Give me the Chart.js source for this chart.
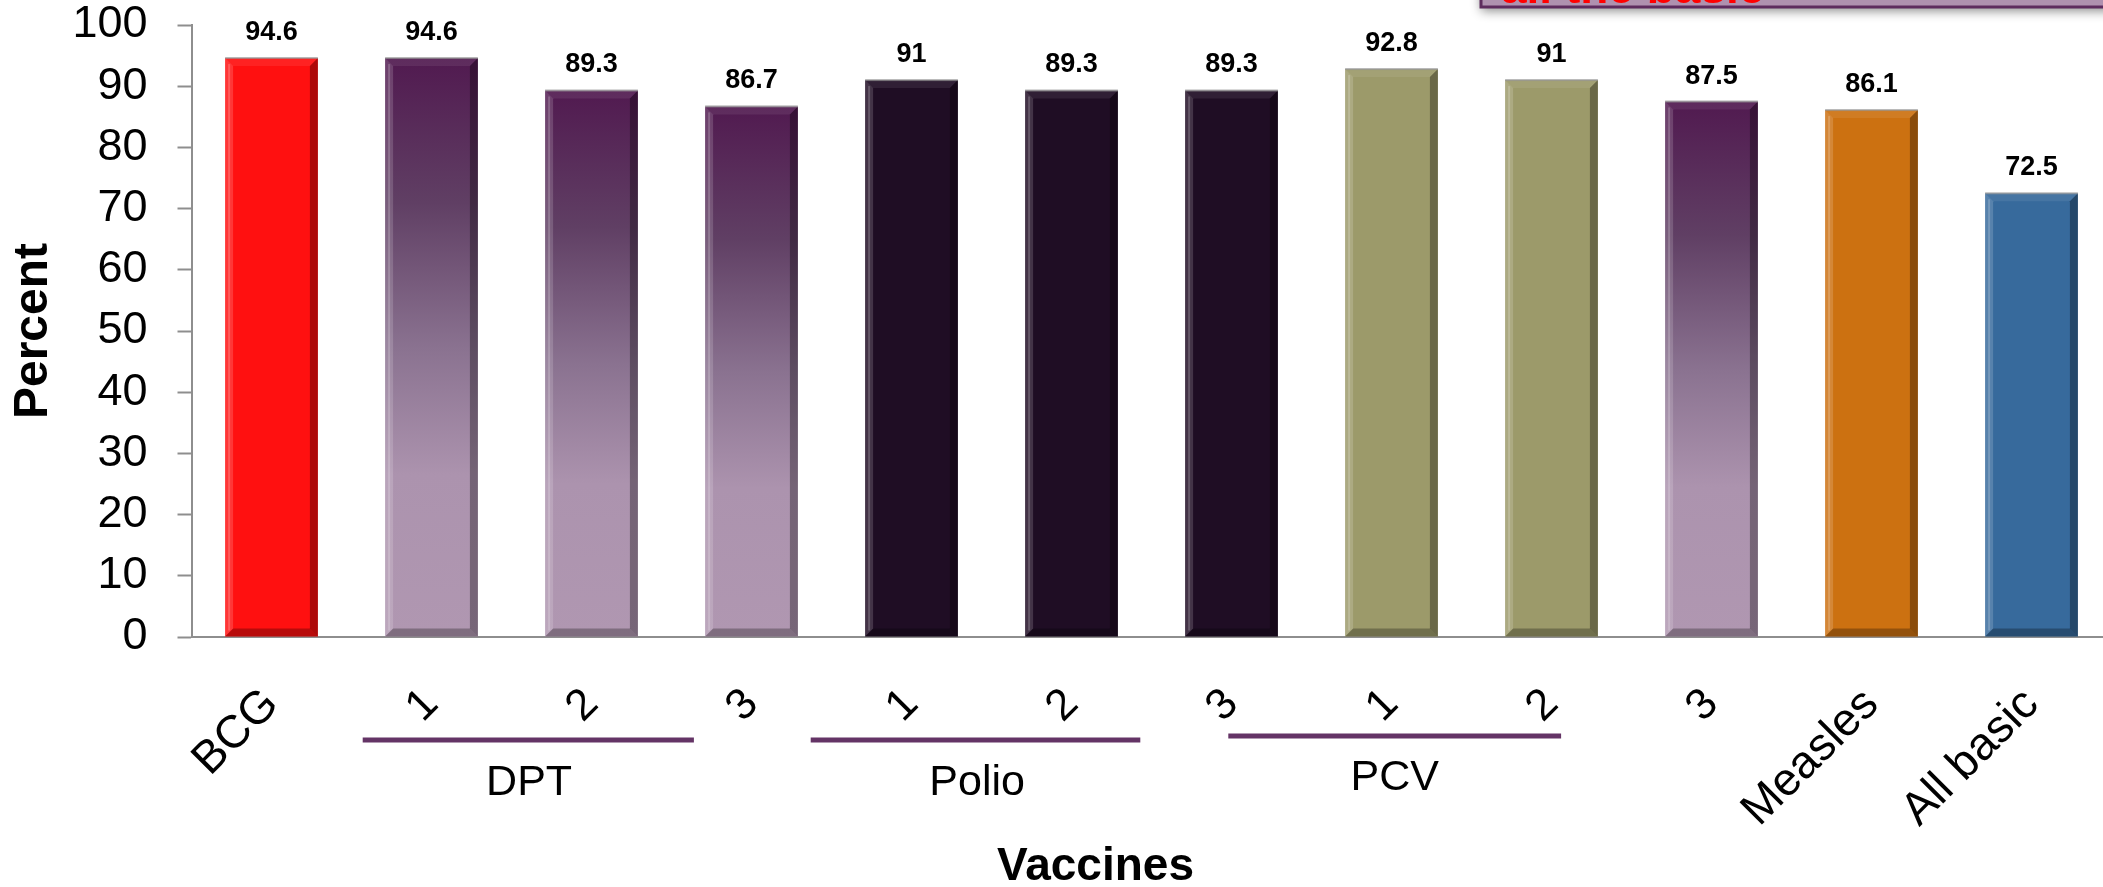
<!DOCTYPE html>
<html>
<head>
<meta charset="utf-8">
<title>Vaccination coverage</title>
<script src="https://cdn.jsdelivr.net/npm/chart.js@4.4.1/dist/chart.umd.min.js"></script>
<style>
    html, body { margin: 0; padding: 0; background: #fff; overflow: hidden; }
    #chart { display: block; }
</style>
</head>
<body>
<canvas id="chart" width="2120" height="887"></canvas>
<script>
// ---- data ----
const categories = ['BCG', '1', '2', '3', '1', '2', '3', '1', '2', '3', 'Measles', 'All basic'];
const coverage = [94.6, 94.6, 89.3, 86.7, 91, 89.3, 89.3, 92.8, 91, 87.5, 86.1, 72.5];
const yTicks = [0, 10, 20, 30, 40, 50, 60, 70, 80, 90, 100];
const groupNames = ['DPT', 'Polio', 'PCV'];
const yTitle = 'Percent';
const xTitle = 'Vaccines';
const calloutText = 'all the basic';

// one fill kind per bar
const barKinds = ['red', 'purple', 'purple', 'purple', 'dark', 'dark', 'dark', 'olive', 'olive', 'purple', 'orange', 'blue'];
const fills = {
    red: '#FF1010',
    purple: '#8A7290',
    dark: '#1F0D24',
    olive: '#9C9A6A',
    orange: '#CC7111',
    blue: '#376A9C'
};

const FONT = '"Liberation Sans", Arial, sans-serif';
const NARROW = '"Liberation Sans Narrow", "Arial Narrow", "Liberation Sans", sans-serif';
const AXIS_GREY = '#8E8E8E';

function barFill(c) {
    const kind = barKinds[c.dataIndex];
    if (kind !== 'purple') return fills[kind];
    const chart = c.chart;
    const area = chart.chartArea;
    if (!area || !chart.scales.y) return fills.purple;
    const yTop = chart.scales.y.getPixelForValue(coverage[c.dataIndex]);
    const g = chart.ctx.createLinearGradient(0, yTop, 0, area.bottom);
    g.addColorStop(0, '#511A50');
    g.addColorStop(0.25, '#603F64');
    g.addColorStop(0.5, '#8A7290');
    g.addColorStop(0.72, '#AC93AE');
    g.addColorStop(1, '#B097B1');
    return g;
}

// bevelled edges like the office-style bars
const bevelPlugin = {
    id: 'bevel',
    afterDatasetsDraw(chart) {
        const ctx = chart.ctx;
        const b = 8;
        chart.getDatasetMeta(0).data.forEach(bar => {
            const x0 = bar.x - bar.width / 2, x1 = bar.x + bar.width / 2;
            const y0 = bar.y, y1 = bar.base;
            ctx.save();
            const poly = (pts, fill) => {
                ctx.beginPath();
                ctx.moveTo(pts[0][0], pts[0][1]);
                pts.slice(1).forEach(p => ctx.lineTo(p[0], p[1]));
                ctx.closePath();
                ctx.fillStyle = fill;
                ctx.fill();
            };
            poly([[x0, y0], [x1, y0], [x1 - b, y0 + b], [x0 + b, y0 + b]], 'rgba(255,255,255,0.08)');
            poly([[x0, y0], [x0 + b, y0 + b], [x0 + b, y1 - b], [x0, y1]], 'rgba(255,255,255,0.16)');
            poly([[x1, y0], [x1, y1], [x1 - b, y1 - b], [x1 - b, y0 + b]], 'rgba(0,0,0,0.32)');
            poly([[x0, y1], [x1, y1], [x1 - b, y1 - b], [x0 + b, y1 - b]], 'rgba(0,0,0,0.28)');
            // thin highlight inside the left edge
            ctx.fillStyle = 'rgba(255,255,255,0.18)';
            ctx.fillRect(x0 + 3, y0 + 6, 2, y1 - y0 - 12);
            // light rim on top
            ctx.fillStyle = 'rgba(150,150,150,0.7)';
            ctx.fillRect(x0, y0 - 1, x1 - x0, 2);
            ctx.restore();
        });
    }
};

const valueLabelPlugin = {
    id: 'valueLabels',
    afterDatasetsDraw(chart) {
        const ctx = chart.ctx;
        ctx.save();
        ctx.font = `bold 27px ${FONT}`;
        ctx.fillStyle = '#000';
        ctx.textAlign = 'center';
        ctx.textBaseline = 'alphabetic';
        chart.getDatasetMeta(0).data.forEach((bar, i) => {
            ctx.fillText(String(coverage[i]), bar.x, bar.y - 18);
        });
        ctx.restore();
    }
};

// group brackets under the tick labels, the x title and the cut-off callout box
const annotationPlugin = {
    id: 'annotations',
    afterDraw(chart, args, opts) {
        const ctx = chart.ctx;
        const xs = chart.scales.x;
        ctx.save();
        opts.groups.forEach((g, i) => {
            const a = xs.getPixelForValue(g.from);
            const b = xs.getPixelForValue(g.to);
            ctx.fillStyle = '#643466';
            ctx.fillRect(a, g.lineY - 2.5, b - a, 5);
            ctx.fillStyle = '#000';
            ctx.font = `43px ${NARROW}`;
            ctx.textAlign = 'center';
            ctx.textBaseline = 'alphabetic';
            ctx.fillText(groupNames[i], xs.getPixelForValue(g.textAt), g.textY);
        });

        ctx.font = `bold 46px ${FONT}`;
        ctx.fillStyle = '#000';
        ctx.textAlign = 'center';
        ctx.fillText(xTitle, xs.getPixelForValue(opts.xTitleAt), opts.xTitleY);

        // callout box cut by the top edge
        const box = opts.box;
        ctx.shadowColor = 'rgba(0,0,0,0.45)';
        ctx.shadowBlur = 10;
        ctx.shadowOffsetY = 4;
        ctx.fillStyle = '#AF91AF';
        ctx.fillRect(box.x, box.y, box.w, box.h);
        ctx.shadowColor = 'transparent';
        ctx.strokeStyle = '#5E2C5E';
        ctx.lineWidth = 3;
        ctx.strokeRect(box.x, box.y, box.w, box.h);
        ctx.fillStyle = '#FF0000';
        ctx.font = `bold 46px ${FONT}`;
        ctx.textAlign = 'left';
        ctx.fillText(calloutText, box.x + 20, 3);
        ctx.restore();
    }
};

const chart = new Chart(document.getElementById('chart'), {
    type: 'bar',
    data: {
        labels: categories,
        datasets: [{
            data: coverage,
            backgroundColor: barFill,
            borderWidth: 0,
            categoryPercentage: 1,
            barPercentage: 0.58
        }]
    },
    options: {
        responsive: false,
        animation: false,
        devicePixelRatio: 1,
        layout: { padding: { top: 25, right: 8.5, left: 0, bottom: 0 } },
        plugins: {
            legend: { display: false },
            tooltip: { enabled: false },
            annotations: {
                groups: [
                    { from: 0.57, to: 2.64, textAt: 1.61, lineY: 740, textY: 795 },
                    { from: 3.37, to: 5.43, textAt: 4.41, lineY: 740, textY: 795 },
                    { from: 5.98, to: 8.06, textAt: 7.02, lineY: 736, textY: 790 }
                ],
                xTitleAt: 5.15,
                xTitleY: 880,
                box: { x: 1481, y: -60, w: 700, h: 67 }
            }
        },
        scales: {
            x: {
                z: 1,
                grid: { display: false },
                border: { color: AXIS_GREY, width: 2 },
                ticks: {
                    autoSkip: false,
                    minRotation: 45,
                    maxRotation: 45,
                    padding: 49,
                    color: '#000',
                    font: c => ({
                        family: FONT,
                        size: /^\d$/.test(categories[c.index]) ? 44 : 46,
                        lineHeight: 0.2
                    })
                },
                afterFit: s => {
                    s.height = 250;
                    s.paddingLeft = 0;
                    s.paddingRight = 0;
                }
            },
            y: {
                min: 0,
                max: 100,
                afterBuildTicks: s => { s.ticks = yTicks.map(v => ({ value: v })); },
                grid: { drawOnChartArea: false, drawTicks: true, tickLength: 14, tickWidth: 2, color: AXIS_GREY },
                border: { color: AXIS_GREY, width: 2 },
                ticks: {
                    padding: 30,
                    color: '#000',
                    font: { family: FONT, size: 45, lineHeight: 1 }
                },
                title: {
                    display: true,
                    text: yTitle,
                    color: '#000',
                    font: { family: FONT, size: 48, weight: 'bold', lineHeight: 1.2 },
                    padding: { top: 5, bottom: 0 }
                },
                afterFit: s => {
                    s.width = 191.5;
                    // keep the plot top at the layout padding, labels may overhang
                    s.paddingTop = 0;
                    s.paddingBottom = 0;
                }
            }
        }
    },
    plugins: [bevelPlugin, valueLabelPlugin, annotationPlugin]
});
</script>
</body>
</html>
